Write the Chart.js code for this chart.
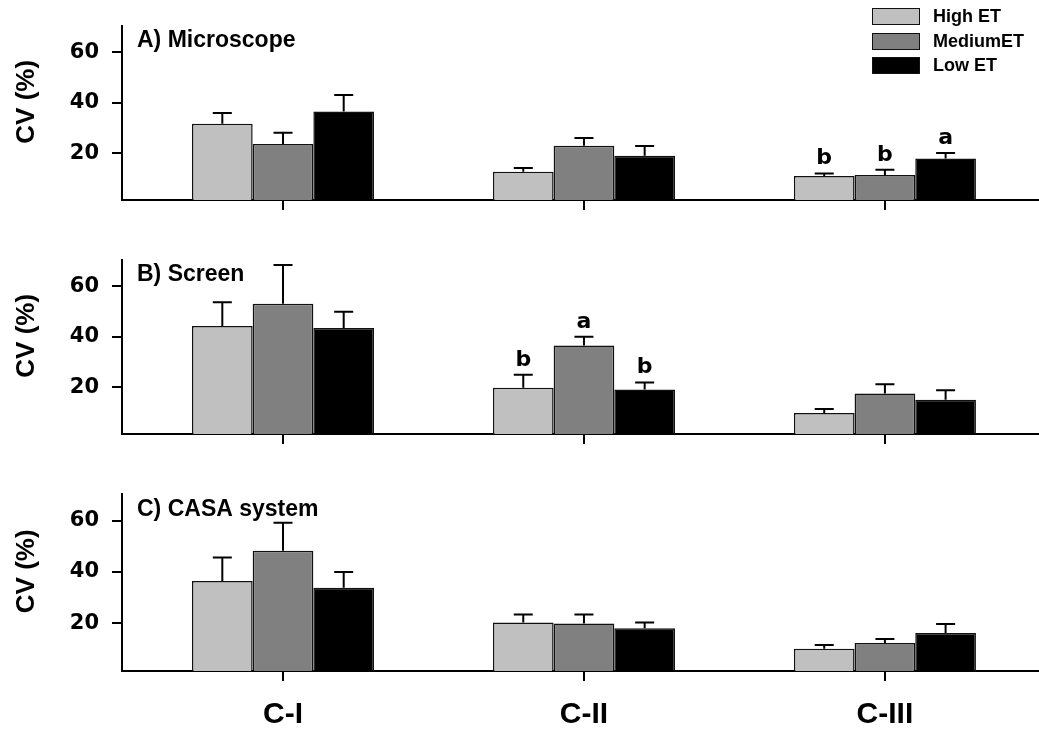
<!DOCTYPE html>
<html>
<head>
<meta charset="utf-8">
<script src="https://cdn.jsdelivr.net/npm/chart.js@4.4.1/dist/chart.umd.min.js"></script>
<style>
  body { margin: 0; background: #fff; }
  #wrap { position: relative; width: 1039px; height: 733px; overflow: hidden; }
  #wrap canvas { position: absolute; left: 0; }
  #legend { position: absolute; left: 872px; top: 8px; font: bold 18px "Liberation Sans", Arial, sans-serif; color: #000; }
  .row { display: flex; align-items: center; height: 17px; margin-bottom: 7.5px; }
  .sw { box-sizing: border-box; width: 48px; height: 17px; border: 1.5px solid #111; margin-right: 13px; }
</style>
</head>
<body>
<div id="wrap">
  <canvas id="chartA" width="1039" height="234" style="top:0"></canvas>
  <canvas id="chartB" width="1039" height="234" style="top:234px"></canvas>
  <canvas id="chartC" width="1039" height="265" style="top:468px"></canvas>
  <div id="legend"></div>
</div>
<script>
"use strict";

const categories = ["C-I", "C-II", "C-III"];
const seriesLabels = ["High ET", "MediumET", "Low ET"];
const seriesColors = ["#c0c0c0", "#808080", "#000000"];
const yTicks = [20, 40, 60];
const yTitle = "CV (%)";

// A) Microscope
const microHigh = [31.7, 12.7, 11.0];
const microHighErr = [4.2, 1.5, 1.0];
const microMed = [23.7, 23.0, 11.4];
const microMedErr = [4.4, 3.0, 2.1];
const microLow = [36.5, 19.0, 17.9];
const microLowErr = [6.5, 3.9, 2.2];
const microLetters = [[null, null, "b"], [null, null, "b"], [null, null, "a"]];

// B) Screen
const screenHigh = [44.2, 19.8, 9.8];
const screenHighErr = [9.4, 5.1, 1.6];
const screenMed = [53.0, 36.5, 17.5];
const screenMedErr = [15.4, 3.5, 3.7];
const screenLow = [43.4, 19.1, 15.1];
const screenLowErr = [6.5, 2.8, 3.7];
const screenLetters = [[null, "b", null], [null, "a", null], [null, "b", null]];

// C) CASA system
const casaHigh = [36.5, 20.4, 10.2];
const casaHighErr = [9.1, 3.1, 1.4];
const casaMed = [48.3, 20.0, 12.4];
const casaMedErr = [10.9, 3.5, 1.5];
const casaLow = [33.9, 18.1, 16.3];
const casaLowErr = [6.1, 2.3, 3.5];
const casaLetters = [[null, null, null], [null, null, null], [null, null, null]];

const ARIAL = "'Liberation Sans', Arial, sans-serif";
const WIDE = "'DejaVu Sans', sans-serif";

// barras de erro (so para cima) + letras de significancia
const errorBars = {
  id: "errorBars",
  afterDatasetsDraw(chart) {
    const { ctx } = chart;
    const y = chart.scales.y;
    ctx.save();
    ctx.strokeStyle = "#000";
    ctx.fillStyle = "#000";
    ctx.lineWidth = 2;
    ctx.font = "bold 22px " + WIDE;
    ctx.textAlign = "center";
    ctx.textBaseline = "alphabetic";
    chart.data.datasets.forEach((ds, i) => {
      chart.getDatasetMeta(i).data.forEach((bar, j) => {
        const top = y.getPixelForValue(ds.data[j].y + ds.errors[j]);
        ctx.beginPath();
        ctx.moveTo(bar.x, bar.y);
        ctx.lineTo(bar.x, top);
        ctx.moveTo(bar.x - 9.5, top);
        ctx.lineTo(bar.x + 9.5, top);
        ctx.stroke();
        if (ds.letters[j]) ctx.fillText(ds.letters[j], bar.x, top - 9);
      });
    });
    ctx.restore();
  },
};

// rotulo do painel + titulo do eixo y (um pouco acima do centro, como no original)
const panelLabel = {
  id: "panelLabel",
  afterDraw(chart, args, opts) {
    const { ctx, chartArea } = chart;
    ctx.save();
    ctx.fillStyle = "#000";
    ctx.font = "bold 23px " + ARIAL;
    ctx.textAlign = "left";
    ctx.textBaseline = "middle";
    ctx.fillText(opts.text, chartArea.left + 15, chartArea.top + opts.dy);

    ctx.font = "bold 26px " + ARIAL;
    ctx.textAlign = "center";
    ctx.translate(27, (chartArea.top + chartArea.bottom) / 2 - 11);
    ctx.rotate(-Math.PI / 2);
    ctx.fillText(yTitle, 0, 0);
    ctx.restore();
  },
};

function makeChart(id, title, dy, values, errors, letters, showLabels, pad) {
  const datasets = values.map((vals, k) => ({
    label: seriesLabels[k],
    data: vals.map((v, i) => ({ x: i, y: v })),
    errors: errors[k],
    letters: letters[k],
    backgroundColor: seriesColors[k],
    borderColor: "#111",
    borderWidth: 1.5,
    borderSkipped: "start",
    categoryPercentage: 0.605,
    barPercentage: 1,
    clip: 0,
  }));

  return new Chart(document.getElementById(id), {
    type: "bar",
    data: { datasets },
    plugins: [errorBars, panelLabel],
    options: {
      responsive: false,
      animation: false,
      devicePixelRatio: 1,
      layout: { padding: { left: 0, right: 0, top: pad.top, bottom: pad.bottom } },
      plugins: {
        legend: { display: false },
        tooltip: { enabled: false },
        panelLabel: { text: title, dy },
      },
      scales: {
        x: {
          type: "linear",
          offset: false,
          min: -0.535,
          max: 2.512,
          afterBuildTicks: (s) => { s.ticks = categories.map((_, i) => ({ value: i })); },
          afterFit: (s) => { s.height = pad.xHeight; },
          ticks: {
            display: showLabels,
            autoSkip: false,
            padding: 16,
            color: "#000",
            font: { family: ARIAL, size: 30, weight: "bold" },
            callback: (v) => categories[v] ?? "",
          },
          grid: { offset: false, drawOnChartArea: false, drawTicks: true, tickLength: 10, color: "#000", lineWidth: 2 },
          border: { display: true, color: "#000", width: 2 },
        },
        y: {
          min: 1.5,
          max: 70.5,
          afterBuildTicks: (s) => { s.ticks = yTicks.map((v) => ({ value: v })); },
          afterFit: (s) => { s.width = 122; },
          ticks: { padding: 13, color: "#000", font: { family: WIDE, size: 21, weight: "bold" } },
          grid: { drawOnChartArea: false, drawTicks: true, tickLength: 10, color: "#000", lineWidth: 2 },
          border: { display: true, color: "#000", width: 2 },
          title: { display: false },
        },
      },
    },
  });
}

function renderLegend() {
  const el = document.getElementById("legend");
  seriesLabels.forEach((lab, k) => {
    const row = document.createElement("div");
    row.className = "row";
    const sw = document.createElement("span");
    sw.className = "sw";
    sw.style.background = seriesColors[k];
    const txt = document.createElement("span");
    txt.textContent = lab;
    row.appendChild(sw);
    row.appendChild(txt);
    el.appendChild(row);
  });
}

makeChart("chartA", "A) Microscope", 15,
  [microHigh, microMed, microLow], [microHighErr, microMedErr, microLowErr], microLetters,
  false, { top: 13, bottom: 24, xHeight: 10 });
makeChart("chartB", "B) Screen", 15,
  [screenHigh, screenMed, screenLow], [screenHighErr, screenMedErr, screenLowErr], screenLetters,
  false, { top: 13, bottom: 24, xHeight: 10 });
makeChart("chartC", "C) CASA system", 16,
  [casaHigh, casaMed, casaLow], [casaHighErr, casaMedErr, casaLowErr], casaLetters,
  true, { top: 16, bottom: 6, xHeight: 56 });
renderLegend();
</script>
</body>
</html>
